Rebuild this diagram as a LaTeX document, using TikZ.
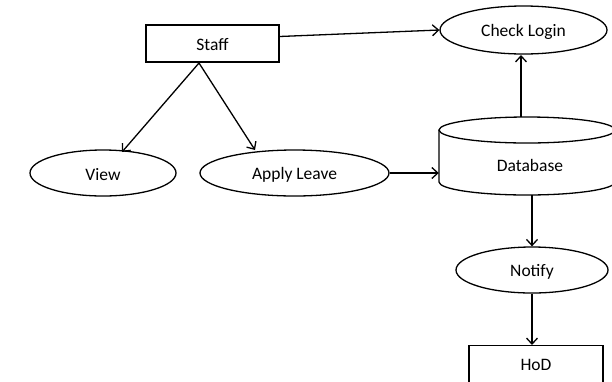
\documentclass[tikz,border=0pt]{standalone}
\usepackage{fontspec}
\setmainfont{Carlito}
\usetikzlibrary{arrows.meta,shapes.geometric}
\begin{document}
\begin{tikzpicture}[x=1pt,y=-1pt,
  every node/.style={font=\fontsize{17.5}{20}\selectfont, inner sep=0pt},
  box/.style={draw, line width=1.3pt, rectangle},
  oval/.style={draw, line width=1.3pt, ellipse},
  lbl/.style={yshift=-1.5pt},
  arr/.style={line width=1.3pt, -{Straight Barb[length=6pt,width=11pt,line width=1.3pt]}}]
\useasboundingbox (0,0) rectangle (612,381);
\clip (0,0) rectangle (612,381);

% actors and processes
\node[box, minimum width=133pt, minimum height=37pt] (staff) at (212.5,43.5) {};
\node[lbl] at (staff) {Staff};
\node[oval, minimum width=167pt, minimum height=48pt] (login) at (523.5,30) {};
\node[lbl] at (login) {Check Login};
\node[oval, minimum width=146pt, minimum height=46pt] (view) at (103,173) {};
\node[lbl] at (view) {View};
\node[oval, minimum width=189pt, minimum height=46pt] (apply) at (294.5,173) {};
\node[lbl] at (apply) {Apply Leave};
\node[oval, minimum width=152pt, minimum height=46pt] (notify) at (532,270) {};
\node[lbl] at (notify) {Notify};
\node[box, minimum width=134pt, minimum height=60pt, anchor=north] (hod) at (536,345) {};
\node at (536,365) {HoD};

% database cylinder
\node[minimum width=176pt, minimum height=78pt] (db) at (527,156) {};
\node at (530,165) {Database};
\draw[line width=1.3pt] (527,130) ellipse[x radius=88pt, y radius=13pt];
\draw[line width=1.3pt] (439,130) -- (439,182)
  arc[start angle=180, end angle=360, x radius=88pt, y radius=13pt] -- (615,130);

% connectors
\coordinate (fork) at (199,63);
\draw[arr] ([yshift=7pt]staff.east) -- (login.west);
\draw[arr] (fork) -- (122,152);
\draw[arr] (fork) -- (255,150);
\draw[arr] (apply.east) -- (db.west |- apply.east);
\draw[arr] (521,117) -- (521,55);
\draw[arr] (db.south -| notify) -- (notify.north);
\draw[arr] (notify.south) -- (hod.north -| notify);
\end{tikzpicture}
\end{document}
